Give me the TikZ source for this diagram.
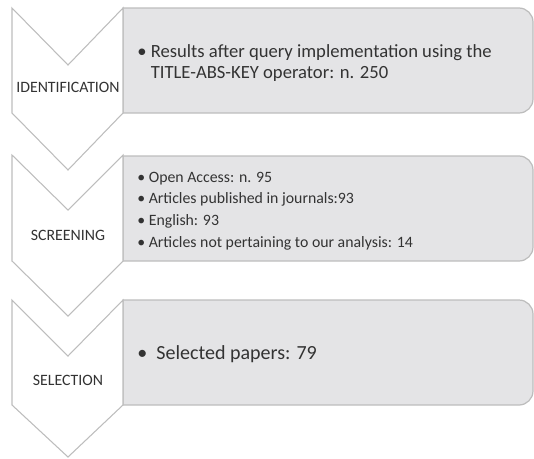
\documentclass[tikz,border=0pt]{standalone}
\usepackage{fontspec}
\setmainfont{Carlito}
\usepackage{tikz}

\definecolor{boxfill}{HTML}{E4E4E6}
\definecolor{edgegray}{HTML}{BDBDBD}
\definecolor{txtgray}{HTML}{333333}

\begin{document}
\begin{tikzpicture}[x=0.02cm,y=-0.02cm]
  \tikzset{stagebox/.style = {fill=boxfill,draw=edgegray,line width=0.7pt}}
  \tikzset{chevron/.style = {fill=white,draw=edgegray,line width=0.6pt,line join=miter}}
  \tikzset{stagelabel/.style = {text=txtgray,font=\fontsize{9}{11}\selectfont,inner sep=0pt}}
  \tikzset{items/.style = {text=txtgray,anchor=west,align=left,inner sep=0pt}}

  \useasboundingbox (0,0) rectangle (534,458);

  % boxes, square on the left, rounded on the right
  \foreach \top/\bot in {8/113, 156/261, 300/405}
    \draw[stagebox] (123,\top) [rounded corners=8] -- (533,\top) -- (533,\bot) [sharp corners] -- (123,\bot) -- cycle;

  % chevrons
  \foreach \top/\notch/\bot/\tip in {8/65/113/170, 155/210/261/316, 300/356/405/457}
    \draw[chevron] (12,\top) -- (68,\notch) -- (123,\top) -- (123,\bot) -- (68,\tip) -- (12,\bot) -- cycle;

  \node[stagelabel,anchor=base] (ident) at (68,92) {IDENTIFICATION};
  \node[stagelabel,anchor=base] (screen) at (68,240) {SCREENING};
  \node[stagelabel,anchor=base] (select) at (68,385) {SELECTION};

  \node[items,font=\fontsize{10.6}{11.7}\selectfont] (res) at (137,63)
    {\textbullet\ Results after query implementation using the\\
     \phantom{\textbullet\ }TITLE-ABS-KEY operator: n. 250};
  \node[items,font=\fontsize{9}{12.3}\selectfont] (scr) at (137,211)
    {\textbullet\ Open Access: n. 95\\
     \textbullet\ Articles published in journals:93\\
     \textbullet\ English: 93\\
     \textbullet\ Articles not pertaining to our analysis: 14};
  \node[items,font=\fontsize{11.4}{12}\selectfont] (sel) at (137,354)
    {\textbullet\ \ Selected papers: 79};
\end{tikzpicture}
\end{document}
